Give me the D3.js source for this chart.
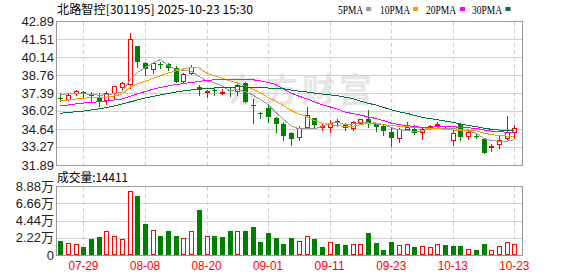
<!DOCTYPE html>
<html><head><meta charset="utf-8">
<script src="https://cdn.jsdelivr.net/npm/d3@7/dist/d3.min.js"></script>
<style>html,body{margin:0;padding:0;background:#fff}svg{display:block}</style>
</head><body>
<script>
const dates=["07-24","07-25","07-28","07-29","07-30","07-31","08-01","08-04","08-05","08-06","08-07","08-08","08-11","08-12","08-13","08-14","08-15","08-18","08-19","08-20","08-21","08-22","08-25","08-26","08-27","08-28","08-29","09-01","09-02","09-03","09-04","09-05","09-08","09-09","09-10","09-11","09-12","09-15","09-16","09-17","09-18","09-19","09-22","09-23","09-24","09-25","09-26","09-29","09-30","10-09","10-10","10-13","10-14","10-15","10-16","10-17","10-20","10-21","10-22","10-23"];
const open=[37.08,36.99,37.41,37.51,37.25,37.07,36.89,37.45,37.91,38.09,41.02,39.70,39.26,39.63,39.62,39.31,38.37,38.93,37.86,37.58,37.68,37.52,37.68,37.58,38.17,36.51,35.87,36.30,35.50,35.04,34.35,34.04,34.81,35.50,34.90,34.85,35.26,34.98,34.73,35.16,35.44,35.11,34.93,34.47,33.97,34.68,34.68,34.47,34.73,35.02,34.75,33.84,35.04,34.17,34.16,33.89,33.37,33.51,33.97,34.47];
const high=[37.40,37.39,37.66,37.60,37.48,37.41,37.56,38.00,38.29,42.03,41.05,39.80,39.80,39.80,39.70,39.51,38.93,39.57,38.04,37.62,37.86,37.71,37.86,38.17,38.29,36.97,36.00,36.51,35.62,35.24,34.47,34.91,36.34,35.54,35.12,35.37,35.42,35.12,35.31,35.45,36.13,35.16,34.98,34.73,34.78,35.24,34.98,34.73,35.00,35.19,34.93,34.60,35.11,34.53,34.35,33.89,33.51,34.14,35.67,34.98];
const low=[36.84,36.89,37.30,37.14,36.76,36.44,36.59,37.00,37.71,37.79,39.44,38.80,38.93,39.31,39.19,38.25,38.25,38.86,37.28,37.15,37.28,37.33,37.20,37.28,36.76,35.11,35.54,35.24,34.47,33.84,33.42,33.84,34.73,34.73,34.60,34.47,34.91,34.60,34.60,35.12,34.85,34.55,34.22,33.40,33.71,34.65,34.27,33.89,34.65,34.78,34.65,33.46,33.84,33.89,33.97,32.87,33.02,33.20,33.89,34.01];
const close=[37.07,37.28,37.58,37.50,37.20,36.72,37.45,37.96,38.19,41.53,39.82,39.24,39.70,39.62,39.34,38.29,38.86,39.39,37.66,37.60,37.66,37.54,37.64,38.04,36.76,36.44,35.83,35.62,35.06,34.14,33.89,34.73,35.75,34.98,34.92,35.16,35.24,34.73,35.24,35.42,35.11,34.81,34.55,34.01,34.68,34.85,34.35,34.65,34.91,35.04,34.73,34.35,34.09,34.47,34.14,32.87,33.38,33.84,34.47,34.73];
// volume in 万 (10k)
const volume=[1.93,1.67,1.42,1.03,2.06,2.32,3.09,2.45,2.06,8.24,7.64,4.03,3.22,2.45,3.09,2.57,2.19,3.09,5.92,2.57,2.45,2.32,3.09,3.09,3.09,3.73,1.80,2.96,2.19,1.54,2.19,1.93,2.57,2.06,1.03,1.80,1.42,1.29,1.42,1.54,2.96,1.67,0.77,1.80,1.29,1.42,1.03,1.16,1.03,1.42,1.29,1.16,1.16,0.90,0.77,1.54,0.77,1.16,1.80,1.4411];
// 1 = rising (red hollow) volume bar, 0 = falling (green)
const volUp=[0,1,1,0,0,0,1,1,1,1,0,0,1,0,0,0,1,1,0,1,0,0,0,1,0,0,0,0,0,0,0,1,1,0,0,1,0,0,1,1,0,0,0,0,1,1,0,1,1,1,0,0,0,1,0,0,1,1,1,1];
const ma5=[37.33,37.36,37.38,37.37,37.33,37.26,37.29,37.37,37.50,38.37,38.99,39.35,39.70,39.98,39.54,39.24,39.16,39.10,38.71,38.36,38.23,37.97,37.62,37.69,37.53,37.28,36.94,36.54,35.94,35.42,34.91,34.69,34.71,34.70,34.85,35.11,35.21,35.00,35.06,35.16,35.15,35.06,35.03,34.78,34.63,34.58,34.49,34.51,34.69,34.76,34.74,34.74,34.62,34.54,34.36,33.98,33.79,33.74,33.74,33.86];
const ma10=[36.85,36.90,36.97,37.03,37.07,37.08,37.12,37.20,37.33,37.85,38.12,38.32,38.53,38.74,38.96,39.11,39.26,39.40,39.35,38.95,38.74,38.57,38.36,38.20,37.94,37.76,37.46,37.08,36.82,36.47,36.10,35.82,35.63,35.32,35.14,35.01,34.95,34.86,34.88,35.01,35.13,35.14,35.02,34.92,34.90,34.86,34.78,34.77,34.73,34.70,34.66,34.61,34.57,34.61,34.56,34.36,34.26,34.18,34.14,34.11];
const ma20=[36.44,36.51,36.59,36.66,36.70,36.76,36.82,36.89,36.97,37.16,37.35,37.54,37.70,37.85,37.96,38.08,38.15,38.23,38.31,38.40,38.43,38.44,38.45,38.47,38.45,38.44,38.36,38.24,38.08,37.71,37.42,37.19,36.99,36.76,36.54,36.38,36.20,35.97,35.85,35.74,35.61,35.48,35.32,35.12,35.02,34.94,34.86,34.81,34.81,34.85,34.89,34.87,34.79,34.77,34.73,34.61,34.52,34.47,34.44,34.40];
const ma30=[35.88,35.94,36.00,36.05,36.13,36.21,36.32,36.44,36.59,36.74,36.89,37.05,37.16,37.28,37.39,37.50,37.58,37.66,37.71,37.76,37.81,37.85,37.86,37.89,37.89,37.86,37.83,37.81,37.79,37.76,37.65,37.57,37.51,37.42,37.35,37.29,37.22,37.11,37.01,36.81,36.65,36.51,36.33,36.15,35.99,35.88,35.73,35.57,35.48,35.39,35.29,35.19,35.07,34.95,34.86,34.74,34.66,34.60,34.58,34.60];
const priceTicks=["42.89","41.51","40.14","38.76","37.39","36.02","34.64","33.27","31.89"];
const volTicks=[8.88,6.66,4.44,2.22,0];
const volTickLabels=["8.88万","6.66万","4.44万","2.22万","0"];
const dateTicks=["07-29","08-08","08-20","09-01","09-11","09-23","10-13","10-23"];
const maNames=["5PMA","10PMA","20PMA","30PMA"];
const title="北路智控[301195] 2025-10-23 15:30";
const volTitle="成交量:14411";
const watermark="东方财富";

const RED="#ff0000", GREEN="#008000";
const maColors=["#999999","#f5a000","#ff00ff","#05703a"];
const W=578,H=276;
const L=56.5,R=522.5,mT=21.5,mB=165.5,vT=186.5,vB=255.5;
const svg=d3.select("body").append("svg").attr("width",W).attr("height",H)
  .style("font-family","'Liberation Sans','Noto Sans CJK SC',sans-serif");

const x=d3.scaleLinear().domain([0,dates.length-1]).range([60.3,514.3]);
const y=d3.scaleLinear().domain([31.89,42.89]).range([mB,mT]);
const yv=d3.scaleLinear().domain([0,8.88]).range([vB,vT]);

// watermark
svg.append("text").attr("x",228).attr("y",102).text(watermark)
  .attr("font-family","'Noto Sans CJK SC'").attr("font-weight","bold").attr("font-size",33)
  .attr("letter-spacing",4).attr("fill","#e6e6e6");

const grid=svg.append("g").attr("shape-rendering","crispEdges");
priceTicks.forEach(t=>{
  const yy=Math.round(y(+t)-0.5)+0.5;
  grid.append("line").attr("x1",L).attr("x2",R).attr("y1",yy).attr("y2",yy).attr("stroke","#d0d0d0");
});
volTicks.forEach(t=>{
  const yy=Math.round(yv(t)-0.5)+0.5;
  grid.append("line").attr("x1",L).attr("x2",R).attr("y1",yy).attr("y2",yy).attr("stroke","#d0d0d0");
});
dateTicks.forEach(t=>{
  const i=dates.indexOf(t);
  const xx=Math.round(x(i))+0.5;
  [[mT,mB],[vT,vB]].forEach(([a,b])=>grid.append("line").attr("x1",xx).attr("x2",xx).attr("y1",a).attr("y2",b)
    .attr("stroke","#cfcfcf").attr("stroke-dasharray","4,3"));
});

// candles
const cg=svg.append("g").attr("shape-rendering","crispEdges");
dates.forEach((d,i)=>{
  const cx=Math.round(x(i));
  const up=close[i]>open[i];
  const col=up?RED:GREEN;
  cg.append("line").attr("x1",cx+0.5).attr("x2",cx+0.5).attr("y1",Math.round(y(high[i]))).attr("y2",Math.round(y(low[i]))+1).attr("stroke",col);
  const a=Math.round(y(open[i])),b=Math.round(y(close[i]));
  const top=Math.min(a,b),bot=Math.max(a,b);
  if(up){
    cg.append("rect").attr("x",cx-1.5).attr("y",top+0.5).attr("width",4).attr("height",Math.max(bot-top,1))
      .attr("fill","#fff").attr("stroke",col);
  }else{
    cg.append("rect").attr("x",cx-2).attr("y",top).attr("width",5).attr("height",Math.max(bot-top,1)).attr("fill",col);
  }
});

// MA lines
[ma5,ma10,ma20,ma30].forEach((arr,k)=>{
  svg.append("path").datum(arr)
    .attr("d",d3.line().x((v,i)=>x(i)).y(v=>y(v)))
    .attr("fill","none").attr("stroke",maColors[k]).attr("stroke-width",1).attr("shape-rendering","crispEdges");
});

// volume bars
const vg=svg.append("g").attr("shape-rendering","crispEdges");
volume.forEach((v,i)=>{
  const cx=Math.round(x(i));
  const top=Math.round(yv(v));
  if(volUp[i]){
    vg.append("rect").attr("x",cx-1.5).attr("y",top+0.5).attr("width",4).attr("height",Math.max(254-top,1))
      .attr("fill","#fff").attr("stroke",RED);
  }else{
    vg.append("rect").attr("x",cx-2).attr("y",top).attr("width",5).attr("height",255-top).attr("fill",GREEN);
  }
});

// borders
const bg=svg.append("g").attr("shape-rendering","crispEdges");
bg.append("rect").attr("x",L).attr("y",mT).attr("width",R-L).attr("height",mB-mT).attr("fill","none").attr("stroke","#999");
bg.append("rect").attr("x",L).attr("y",vT).attr("width",R-L).attr("height",vB-vT).attr("fill","none").attr("stroke","#999");

// y labels
priceTicks.forEach(t=>{
  svg.append("text").attr("x",54).attr("y",y(+t)+4).attr("text-anchor","end")
    .attr("font-size",13).attr("fill","#222").text(t);
});
volTicks.forEach((t,k)=>{
  svg.append("text").attr("x",54).attr("y",yv(t)+4).attr("text-anchor","end")
    .attr("font-size",13).attr("fill","#222").text(volTickLabels[k]);
});
// x labels
dateTicks.forEach(t=>{
  const i=dates.indexOf(t);
  svg.append("text").attr("x",x(i)).attr("y",270).attr("text-anchor","middle")
    .attr("font-size",12).attr("fill",RED).attr("textLength",30).attr("lengthAdjust","spacingAndGlyphs").text(t);
});
// titles
svg.append("text").attr("x",57).attr("y",14).attr("font-size",12).attr("fill","#000")
  .attr("font-family","'Noto Sans CJK SC'").attr("textLength",196).attr("lengthAdjust","spacingAndGlyphs").text(title);
svg.append("text").attr("x",57).attr("y",181.5).attr("font-size",12).attr("fill","#000")
  .attr("font-family","'Noto Sans CJK SC'").attr("textLength",71).attr("lengthAdjust","spacingAndGlyphs").text(volTitle);
// legend
const legX=[338,380,426,472], legW=[25,30,30,30], sqX=[366,413,460,505.5];
maNames.forEach((n,k)=>{
  svg.append("text").attr("x",legX[k]).attr("y",13.5).attr("font-size",13).attr("fill","#000")
    .attr("font-family","'Liberation Serif'").attr("textLength",legW[k]).attr("lengthAdjust","spacingAndGlyphs").text(n);
  svg.append("rect").attr("x",sqX[k]).attr("y",7).attr("width",5).attr("height",4).attr("fill",maColors[k]);
});
</script>
</body></html>
